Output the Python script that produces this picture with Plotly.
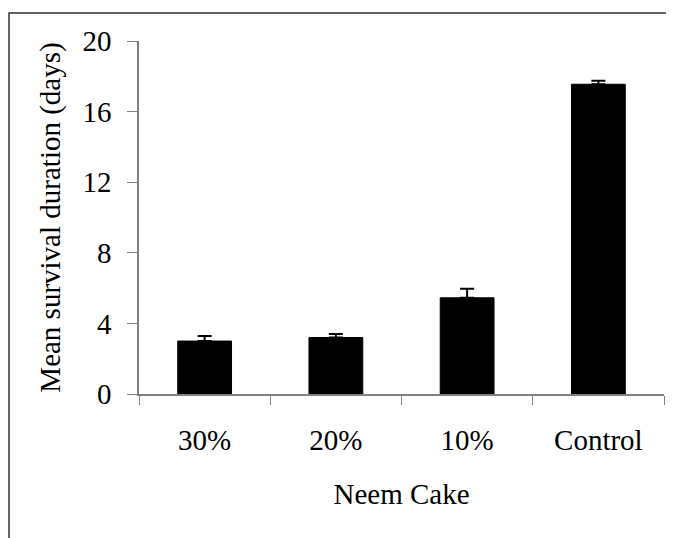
import plotly.graph_objects as go

categories = ["30%", "20%", "10%", "Control"]
means = [3.0, 3.2, 5.45, 17.55]
errors = [0.28, 0.2, 0.52, 0.2]
y_ticks = [0, 4, 8, 12, 16, 20]

FONT = "Liberation Serif, Times New Roman, serif"
FS = 29

fig = go.Figure()
fig.add_trace(go.Bar(
    x=categories,
    y=means,
    marker=dict(color="black", line=dict(color="black", width=1)),
    width=0.41,
    error_y=dict(type="data", array=errors, arrayminus=[0] * len(errors),
                 symmetric=False, color="black", thickness=2, width=7),
))

fig.update_layout(
    width=674, height=538,
    margin=dict(l=131, r=18, t=33, b=152),
    paper_bgcolor="white", plot_bgcolor="white",
    showlegend=False,
    font=dict(family=FONT, size=FS, color="black"),
    xaxis=dict(
        type="category",
        showline=True, linecolor="#808080", linewidth=1.5,
        ticks="outside", tickson="boundaries", ticklen=9, tickcolor="#808080",
        tickfont=dict(size=FS), ticklabelstandoff=19,
        title=dict(text="Neem Cake", font=dict(size=FS), standoff=29),
        showgrid=False,
    ),
    yaxis=dict(
        range=[0, 20], tickvals=y_ticks,
        showline=True, linecolor="#808080", linewidth=1.5,
        ticks="outside", ticklen=10, tickcolor="#808080",
        tickfont=dict(size=FS), ticklabelstandoff=10,
        title=dict(text="Mean survival duration (days)", font=dict(size=FS), standoff=13),
        showgrid=False, zeroline=False,
    ),
    shapes=[dict(type="rect", xref="paper", yref="paper",
                 x0=-0.2476, x1=2, y0=-2, y1=1.0793,
                 line=dict(color="#333333", width=1.5), layer="below")],
)

fig.write_html("out.html")
